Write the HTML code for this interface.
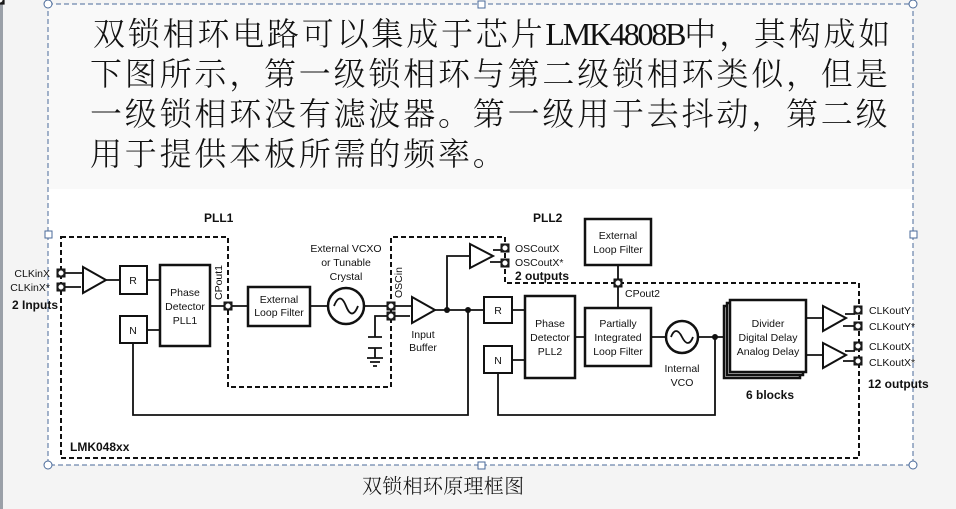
<!DOCTYPE html>
<html><head><meta charset="utf-8"><style>
html,body{margin:0;padding:0;width:956px;height:509px;overflow:hidden;background:#f4f4f4;}
.cn{position:absolute;font-family:"Liberation Serif","Noto Serif CJK SC",serif;color:#111;font-size:32px;letter-spacing:2.8px;white-space:nowrap;line-height:1;font-weight:300;}
svg{position:absolute;left:0;top:0;}
</style></head><body>
<div style="position:absolute;left:0;top:0;width:3px;height:509px;background:#9aa0a8"></div>
<div style="position:absolute;left:48px;top:4px;width:865px;height:185px;background:#f9f9f9"></div>
<div style="position:absolute;left:48px;top:189px;width:865px;height:276px;background:#fff"></div>
<div class="cn" style="left:93px;top:18px">双锁相环电路可以集成于芯片<span style="letter-spacing:-2.2px">LMK4808B</span>中，其构成如</div>
<div class="cn" style="left:90px;top:58px">下图所示，第一级锁相环与第二级锁相环类似，但是</div>
<div class="cn" style="left:90px;top:98px">一级锁相环没有滤波器。第一级用于去抖动，第二级</div>
<div class="cn" style="left:90px;top:138px">用于提供本板所需的频率。</div>
<div class="cn" style="left:362px;top:477px;font-size:20px;letter-spacing:0.3px">双锁相环原理框图</div>
<svg width="956" height="509" viewBox="0 0 956 509" font-family="Liberation Sans, Arial, sans-serif" fill="none" stroke="#111">
<rect x="48" y="4" width="865" height="461" stroke="#4a6a9a" stroke-width="1" stroke-dasharray="5,3"/>
<g stroke="#4a6a9a" fill="#fff">
<circle cx="48" cy="4" r="4"/><circle cx="913" cy="4" r="4"/><circle cx="48" cy="465" r="4"/><circle cx="913" cy="465" r="4"/>
<rect x="478" y="1" width="7" height="7"/><rect x="478" y="462" width="7" height="7"/><rect x="45" y="231" width="7" height="7"/><rect x="910" y="231" width="7" height="7"/>
</g>
<g stroke-width="2" stroke-dasharray="5,3">
<path d="M61,237 H228 V387 H391 V237 H505 V283 H859 V458 H61 Z"/>
</g>
<g stroke-width="2.5">
<rect x="724" y="306" width="76" height="72" fill="#fff"/>
<rect x="727" y="303" width="76" height="72" fill="#fff"/>
<rect x="730" y="300" width="76" height="72" fill="#fff"/>
</g>
<g font-size="12" font-weight="bold" fill="#111" stroke="none">
<text x="204" y="222">PLL1</text>
<text x="533" y="222">PLL2</text>
<text x="70" y="451">LMK048xx</text>
<text x="12" y="309">2 Inputs</text>
<text x="515" y="280">2 outputs</text>
<text x="746" y="399">6 blocks</text>
<text x="868" y="388">12 outputs</text>
</g>
<g font-size="10.5" fill="#111" stroke="none">
<text x="50" y="277" text-anchor="end">CLKinX</text>
<text x="50" y="291" text-anchor="end">CLKinX*</text>
<text x="133" y="284" text-anchor="middle">R</text>
<text x="133" y="334" text-anchor="middle">N</text>
<text x="185" y="296" text-anchor="middle">Phase</text>
<text x="185" y="310" text-anchor="middle">Detector</text>
<text x="185" y="324" text-anchor="middle">PLL1</text>
<text transform="translate(222,300) rotate(-90)">CPout1</text>
<text x="279" y="303" text-anchor="middle">External</text>
<text x="279" y="316" text-anchor="middle">Loop Filter</text>
<text x="346" y="252" text-anchor="middle">External VCXO</text>
<text x="346" y="266" text-anchor="middle">or Tunable</text>
<text x="346" y="280" text-anchor="middle">Crystal</text>
<text transform="translate(402,298) rotate(-90)">OSCin</text>
<text x="423" y="338" text-anchor="middle">Input</text>
<text x="423" y="351" text-anchor="middle">Buffer</text>
<text x="515" y="252">OSCoutX</text>
<text x="515" y="266">OSCoutX*</text>
<text x="498" y="314" text-anchor="middle">R</text>
<text x="498" y="364" text-anchor="middle">N</text>
<text x="550" y="327" text-anchor="middle">Phase</text>
<text x="550" y="341" text-anchor="middle">Detector</text>
<text x="550" y="355" text-anchor="middle">PLL2</text>
<text x="618" y="239" text-anchor="middle">External</text>
<text x="618" y="253" text-anchor="middle">Loop Filter</text>
<text x="625" y="297">CPout2</text>
<text x="618" y="327" text-anchor="middle">Partially</text>
<text x="618" y="341" text-anchor="middle">Integrated</text>
<text x="618" y="355" text-anchor="middle">Loop Filter</text>
<text x="682" y="372" text-anchor="middle">Internal</text>
<text x="682" y="386" text-anchor="middle">VCO</text>
<text x="768" y="327" text-anchor="middle">Divider</text>
<text x="768" y="341" text-anchor="middle">Digital Delay</text>
<text x="768" y="355" text-anchor="middle">Analog Delay</text>
<text x="869" y="314">CLKoutY</text>
<text x="869" y="330">CLKoutY*</text>
<text x="869" y="350">CLKoutX</text>
<text x="869" y="366">CLKoutX*</text>
</g>
<g stroke-width="1.8">
<path d="M65,273 H83 M65,287 H81 M106,280 H120 M147,280 H160 M147,330 H160 M210,306 H248 M310,306 H328 M364,306 H412 M395,316 H375 V337 M395,316 H410 M435,310 H484 M447,310 V256 H470 M493,250 H502 M490,262 H502 M468,310 V415 H133 V343 M512,310 H525 M512,360 H525 M575,337 H585 M618,265 V308 M651,337 H666 M698,337 H724 M715,337 V415 H498 V373 M806,318 H823 M806,355 H823 M845,314 H855 M843,326 H855 M845,351 H855 M843,361 H855"/>
<path d="M368,337 H382 M368,348 H382 M375,348 V358 M367,358 H383 M370,362 H380 M373,366 H377"/>
</g>
<g stroke-width="2">
<path d="M83,267 L106,280 L83,293 Z"/>
<path d="M412,297 L435,310 L412,323 Z"/>
<path d="M470,244 L493,256 L470,268 Z"/>
<path d="M823,306 L846,318 L823,331 Z"/>
<path d="M823,343 L846,355 L823,368 Z"/>
<rect x="120" y="266" width="27" height="28"/>
<rect x="120" y="316" width="27" height="27"/>
<rect x="484" y="297" width="28" height="26"/>
<rect x="484" y="346" width="28" height="27"/>
</g>
<g stroke-width="2.5">
<rect x="160" y="265" width="50" height="81"/>
<rect x="248" y="287" width="62" height="39"/>
<circle cx="346" cy="306" r="18"/>
<rect x="525" y="296" width="50" height="82"/>
<rect x="585" y="219" width="66" height="46"/>
<rect x="585" y="308" width="66" height="58"/>
<circle cx="682" cy="337" r="16"/>
</g>
<g stroke-width="1.8">
<path d="M334,306 C338,296 342,296 346,306 C350,316 354,316 358,306"/>
<path d="M671,337 C674,329 678,329 682,337 C686,345 690,345 693,337"/>
</g>
<g fill="#111" stroke="none">
<circle cx="447" cy="310" r="3"/><circle cx="468" cy="310" r="3"/><circle cx="715" cy="337" r="3"/>
</g>
<g stroke-width="1.2" fill="#fff">
<g id="p"><rect x="-4" y="-4" width="8" height="8" fill="#222"/><circle r="2.2" fill="#fff" stroke="#fff" stroke-width="0.6"/></g>
</g>
<g>
<use href="#p" x="61" y="273"/><use href="#p" x="61" y="287"/>
<use href="#p" x="228" y="306"/>
<use href="#p" x="391" y="306"/><use href="#p" x="391" y="316"/>
<use href="#p" x="505" y="248"/><use href="#p" x="505" y="263"/>
<use href="#p" x="618" y="283"/>
<use href="#p" x="858" y="310"/><use href="#p" x="858" y="326"/>
<use href="#p" x="858" y="346"/><use href="#p" x="858" y="361"/>
</g>
</svg>
</body></html>
